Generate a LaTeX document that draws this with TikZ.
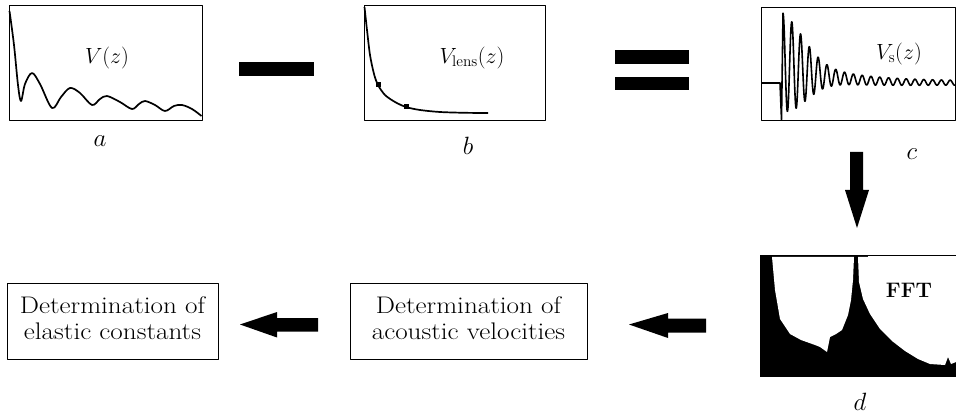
\documentclass[tikz,border=0pt]{standalone}
\usepackage{fix-cm}
\usepackage{graphicx}
\begin{document}
\begin{tikzpicture}[x=1pt,y=-1pt,line join=round]
\tikzset{
  panel/.style={draw,line width=1.2pt,inner sep=0pt,anchor=north west},
  curve/.style={line width=1.7pt},
  lbl/.style={font=\fontsize{25}{27}\selectfont,inner sep=0pt},
  vlbl/.style={font=\fontsize{22}{24}\selectfont,inner sep=0pt},
  txtbox/.style={draw,line width=1pt,inner sep=0pt,font=\fontsize{24}{26}\selectfont},
  blk/.style={fill=black},
  mk/.style={fill=black,minimum size=5pt,inner sep=0pt,rectangle}
}
\useasboundingbox (0,0) rectangle (956,414);

% ---- panel a
\node[panel,minimum width=193pt,minimum height=115pt] (pa) at (9,5) {};
\draw[curve] plot[smooth,tension=0.55] coordinates {(9.5,11) (14,45) (18,85) (21,101) (25,84) (32,73) (40,84) (52,108) (61,97) (70,88) (80,93) (92,105) (100,99) (107,96) (120,102) (132,109) (139,104) (145,101) (155,105) (165,111) (174,106) (182,105) (192,109) (201.5,116)};
\node[vlbl] (va) at (107,58) {$V\mathbf{(}z\mathbf{)}$};
\node[lbl] (la) at (100,141) {$a$};

% ---- minus
\coordinate (minusA) at (239,62);
\fill[blk] (minusA) rectangle ++(75,14);

% ---- panel b
\node[panel,minimum width=181pt,minimum height=115pt] (pb) at (364,5) {};
\draw[curve] plot[smooth,tension=0.5] coordinates {(364.5,7) (367,30) (370,55) (374,74) (378,85) (385,95) (395,102) (406,107) (420,110) (440,112) (465,112.8) (488,113)};
\node[mk] (m1) at (378,85) {};
\node[mk] (m2) at (406,107) {};
\node[vlbl] (vb) at (472,58) {$V_{\mathrm{lens}}\mathbf{(}z\mathbf{)}$};
\node[lbl] (lb) at (468,146) {$b$};

% ---- equals
\coordinate (eqA) at (615,50);
\coordinate (eqB) at (615,77);
\fill[blk] (eqA) rectangle ++(74,14);
\fill[blk] (eqB) rectangle ++(74,13);

% ---- panel c
\node[panel,minimum width=194pt,minimum height=113pt] (pc) at (761,7) {};
\draw[line width=1.6pt] (761,83) -- (780,83) -- (781.5,119.5) -- (783,14)
  -- plot[domain=0:172,samples=600,variable=\t] ({783+\t},{83-21*exp(-\t/40) - (36*exp(-(min(\t,90)/30)^2)+11*exp(-\t/60)+1.8)*cos(40.909*\t)});
\node[vlbl] (vc) at (899,54) {$V_{\mathrm{s}}(z)$};
\node[lbl] (lc) at (912,154) {$c$};

% ---- down arrow
\coordinate (dtop) at (850,152);
\fill[blk] (dtop) -- ++(13,0) -- ++(0,38) -- ++(6,0) -- ++(-12,38) -- ++(-12,-38) -- ++(5,0) -- cycle;

% ---- panel d (FFT)
\fill[black] (760,255) rectangle (956,377);
\fill[white] (772,257) -- (775,290) -- (780,319) -- (790,334) -- (801,340) -- (815,345) -- (820,347) -- (827,352) -- (830,337) -- (836,334) -- (842,330) -- (848,315) -- (851,300) -- (853,280) -- (854,257) -- cycle;
\fill[white] (858,257) -- (859,282) -- (863,299) -- (870,314) -- (880,329) -- (892,341) -- (905,351) -- (918,359) -- (930,364) -- (945,365) -- (948,357) -- (951,364) -- (956,362) -- (956,257) -- cycle;
\fill[white] (868,255) rectangle (956,257);
\draw[line width=0.5pt] (866,255.3) -- (956,255.3);
\node[font=\fontsize{21}{23}\selectfont\bfseries,inner sep=0pt] (fft) at (909,290) {FFT};
\node[lbl] (ld) at (860,402) {$d$};

% ---- bottom boxes
\node[txtbox,minimum width=237pt,minimum height=76pt] (vel) at (468.5,321) {\scalebox{1.13}[1]{\begin{tabular}{@{}c@{}}Determination of\\acoustic velocities\end{tabular}}};
\node[txtbox,minimum width=211pt,minimum height=76pt] (ela) at (112.5,321) {\scalebox{1.13}[1]{\begin{tabular}{@{}c@{}}Determination of\\elastic constants\end{tabular}}};

% ---- left arrows
\coordinate (tip2) at (629,324.5);
\fill[blk] (tip2) -- ++(39,-11.5) -- ++(0,5.5) -- ++(38,0) -- ++(0,14) -- ++(-38,0) -- ++(0,5.5) -- cycle;
\coordinate (tip1) at (240,324.5);
\fill[blk] (tip1) -- ++(37,-12.5) -- ++(0,6) -- ++(41,0) -- ++(0,13.5) -- ++(-41,0) -- ++(0,6) -- cycle;
\end{tikzpicture}
\end{document}
